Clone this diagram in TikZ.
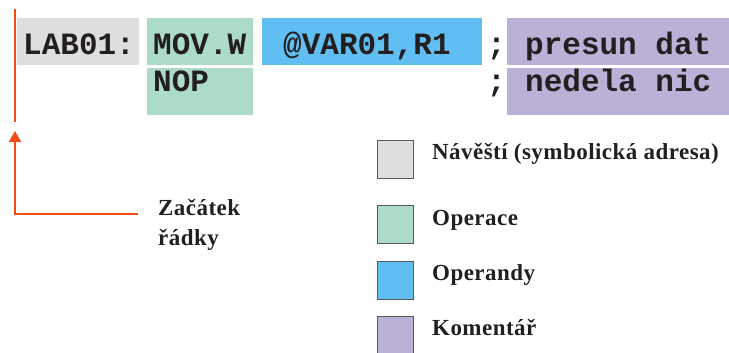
\documentclass[tikz,border=0pt]{standalone}
\usepackage{fontspec}
\setmainfont{Liberation Serif}
\newfontfamily\codefont{Liberation Mono}
\newfontfamily\notefont{Liberation Serif}[LetterSpace=2]
\usetikzlibrary{arrows.meta}

\definecolor{labelgray}{HTML}{DEDEDE}
\definecolor{opgreen}{HTML}{ACDCC8}
\definecolor{argblue}{HTML}{60BEF2}
\definecolor{cmtpurple}{HTML}{BBB0D5}
\definecolor{marker}{HTML}{F04E12}
\definecolor{ink}{HTML}{231F20}

\tikzset{
  field/.style={inner sep=0pt, outer sep=0pt, minimum height=47pt, anchor=north west},
  code/.style={inner sep=0pt, anchor=base west, text=ink,
    font=\codefont\bfseries\fontsize{31}{31}\selectfont},
  swatch/.style={draw=black!65, line width=0.6pt, minimum width=36pt,
    minimum height=38pt, inner sep=0pt, anchor=north west},
  legend/.style={inner sep=0pt, anchor=base west, text=ink,
    font=\notefont\bfseries\fontsize{23}{23}\selectfont},
  guide/.style={draw=marker, line width=2pt},
}

\begin{document}
\begin{tikzpicture}[x=1pt, y=-1pt]
  \useasboundingbox (0,0) rectangle (729,353);

  % coloured fields of the two source lines
  \node[field, fill=labelgray, minimum width=122pt] (lab)   at (17,18)  {};
  \node[field, fill=opgreen,   minimum width=106pt] (op1)   at (147,18) {};
  \node[field, fill=opgreen,   minimum width=106pt] (op2)   at (147,68) {};
  \node[field, fill=argblue,   minimum width=220pt] (arg1)  at (262,18) {};
  \node[field, fill=cmtpurple, minimum width=222pt] (cmt1)  at (507,18) {};
  \node[field, fill=cmtpurple, minimum width=222pt] (cmt2)  at (507,68) {};

  % source text
  \node[code] (tlab)  at (23,55)  {LAB01:};
  \node[code] (top1)  at (153,55) {MOV.W};
  \node[code] (top2)  at (153,92) {NOP};
  \node[code] (targ1) at (283,55) {@VAR01,R1};
  \node[code] (semi1) at (487,55) {;};
  \node[code] (semi2) at (487,92) {;};
  \node[code] (tcmt1) at (525,55) {presun dat};
  \node[code] (tcmt2) at (525,92) {nedela nic};

  % line start marker
  \coordinate (linetop)    at (15,9);
  \coordinate (linebottom) at (15,122);
  \coordinate (arrowtip)   at (15,131);
  \coordinate (corner)     at (15,214);
  \coordinate (arrowfoot)  at (138,214);
  \draw[guide] (linetop) -- (linebottom);
  \draw[guide, -{Triangle[length=11pt, width=12pt]}] (arrowfoot) -- (corner) -- (arrowtip);

  \node[legend] (start1) at (158,215) {Začátek};
  \node[legend] (start2) at (158,245) {řádky};

  % legend
  \node[swatch, fill=labelgray] (sw1) at (377,140) {};
  \node[swatch, fill=opgreen]   (sw2) at (377,205) {};
  \node[swatch, fill=argblue]   (sw3) at (377,261) {};
  \node[swatch, fill=cmtpurple] (sw4) at (377,316) {};

  \node[legend] (lg1) at (432,160) {Návěští (symbolická adresa)};
  \node[legend] (lg2) at (432,225) {Operace};
  \node[legend] (lg3) at (432,280) {Operandy};
  \node[legend] (lg4) at (432,335) {Komentář};
\end{tikzpicture}
\end{document}
